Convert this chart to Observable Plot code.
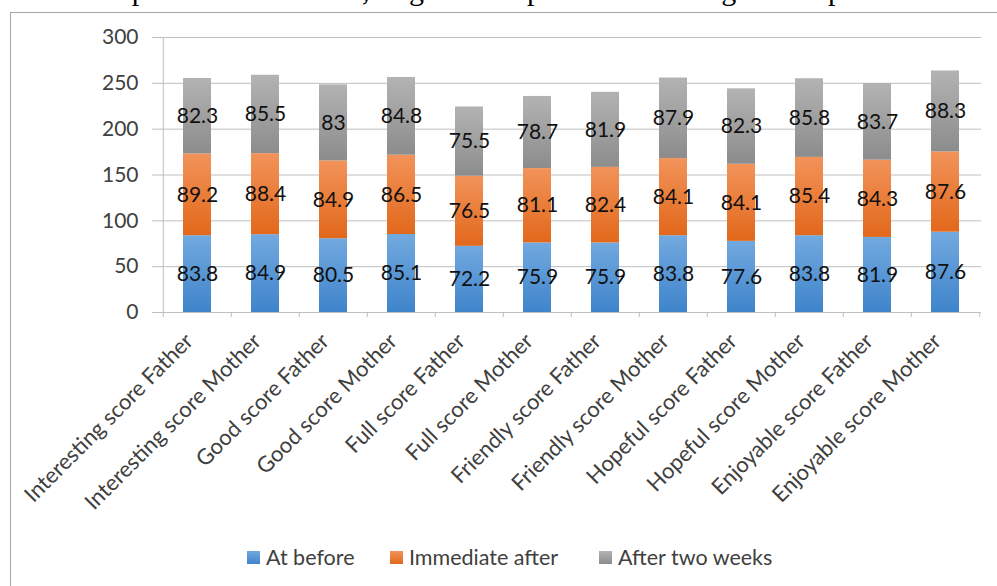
<!DOCTYPE html>
<html><head><meta charset="utf-8">
<script src="https://cdn.jsdelivr.net/npm/d3@7"></script>
<script src="https://cdn.jsdelivr.net/npm/@observablehq/plot@0.6"></script>
<style>
html,body{margin:0;padding:0;background:#fff}
body{width:997px;height:586px;overflow:hidden;position:relative;font-family:Lato,sans-serif}
#toptext{position:absolute;left:0;top:-25px;width:997px;height:40px;font-family:"Liberation Serif",serif;font-size:30px;line-height:30px;color:#000}
#toptext span{position:absolute;top:0;white-space:nowrap}
#frame{position:absolute;left:10px;top:12px;width:1100px;height:700px;border:1.5px solid #a6a6a6}
#chart{position:absolute;left:0;top:0}
.leg{position:absolute;top:546px;display:flex;align-items:center;font-size:21.5px;line-height:22px;color:#404040;white-space:nowrap}
.sw{width:13px;height:13px;margin-right:6px}
</style></head>
<body>
<div id="toptext"></div>
<div id="frame"></div>
<div id="chart"></div>
<div id="legend"></div>
<script>
const cats = ["Interesting score Father","Interesting score Mother","Good score Father","Good score Mother","Full score Father","Full score Mother","Friendly score Father","Friendly score Mother","Hopeful score Father","Hopeful score Mother","Enjoyable score Father","Enjoyable score Mother"];
const series = ["At before","Immediate after","After two weeks"];
const before    = [83.8,84.9,80.5,85.1,72.2,75.9,75.9,83.8,77.6,83.8,81.9,87.6];
const immediate = [89.2,88.4,84.9,86.5,76.5,81.1,82.4,84.1,84.1,85.4,84.3,87.6];
const twoWeeks  = [82.3,85.5,83,84.8,75.5,78.7,81.9,87.9,82.3,85.8,83.7,88.3];
const yTicks = [0,50,100,150,200,250,300];
const topWords = ["relationship","with","the","child,","Figure","4","provide","enough","responsive","sa"];
const topLefts = [5,187,255,302,384,466,527,663,793,970];

const grads = [["#72a9df","#3f84cb"],["#f2935a","#e2681b"],["#b3b3b3","#8c8c8c"]];

// top clipped text line
const tt = document.getElementById("toptext");
topWords.forEach((w,i)=>{const s=document.createElement("span");s.textContent=w;s.style.left=topLefts[i]+"px";tt.appendChild(s);});

const data = [];
[before, immediate, twoWeeks].forEach((vals, si) =>
  vals.forEach((v, i) => data.push({cat: cats[i], series: series[si], value: v})));

const W = 997, H = 520, mL = 160, mR = 16, mT = 37, mB = 208;
const step = (W - mL - mR) / cats.length;

const defs = () => {
  const d = d3.create("svg:defs");
  grads.forEach((g, i) => {
    const lg = d.append("linearGradient").attr("id", "g" + i)
      .attr("x1", 0).attr("y1", 0).attr("x2", 0).attr("y2", 1);
    lg.append("stop").attr("offset", "0%").attr("stop-color", g[0]);
    lg.append("stop").attr("offset", "100%").attr("stop-color", g[1]);
  });
  return d.node();
};

const chart = Plot.plot({
  width: W, height: H, marginTop: mT, marginLeft: mL, marginRight: mR, marginBottom: mB,
  style: {fontFamily: "Lato, sans-serif", background: "transparent", overflow: "visible"},
  x: {domain: cats, padding: 0, label: null},
  y: {domain: [0, 300], label: null},
  color: {domain: series, range: ["url(#g0)", "url(#g1)", "url(#g2)"]},
  marks: [
    defs,
    Plot.gridY(yTicks, {stroke: "#bfbfbf", strokeOpacity: 1}),
    Plot.axisY(yTicks, {tickSize: 8, tickPadding: 14, stroke: "#bfbfbf", fill: "#404040", fontSize: 21, label: null}),
    Plot.axisX({tickRotate: -45, tickSize: 0, tickPadding: 16, dx: -8, dy: 9, fill: "#404040", fontSize: 22, label: null}),
    Plot.ruleY([0], {stroke: "#bfbfbf"}),
    Plot.ruleX(cats, {x: d => d, y1: 0, y2: -5.5, dx: -step / 2, stroke: "#bfbfbf"}),
    Plot.ruleX([cats[cats.length - 1]], {x: d => d, y1: 0, y2: -5.5, dx: step / 2, stroke: "#bfbfbf"}),
    Plot.ruleX([cats[0]], {x: d => d, y1: 0, y2: 300, dx: -step / 2, stroke: "#bfbfbf"}),
    Plot.barY(data, Plot.stackY({x: "cat", y: "value", fill: "series", insetLeft: 20, insetRight: 20})),
    Plot.text(data, Plot.stackY({x: "cat", y: "value", text: d => String(d.value), fill: "#111", fontSize: 21}))
  ]
});
document.getElementById("chart").appendChild(chart);

// legend
const legLefts = [247, 390, 599];
const lg = document.getElementById("legend");
series.forEach((s, i) => {
  const it = document.createElement("div");
  it.className = "leg";
  it.style.left = legLefts[i] + "px";
  const sw = document.createElement("div");
  sw.className = "sw";
  sw.style.background = `linear-gradient(${grads[i][0]}, ${grads[i][1]})`;
  const t = document.createElement("span");
  t.textContent = s;
  it.appendChild(sw); it.appendChild(t);
  lg.appendChild(it);
});
</script>
</body></html>
